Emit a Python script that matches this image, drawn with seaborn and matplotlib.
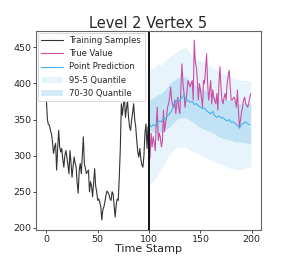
import numpy as np
import pandas as pd
import seaborn as sns
import matplotlib.pyplot as plt

# training window (t = 0..99)
train_t = list(range(0, 100))
train_vals = [378, 350, 343, 342, 335, 330, 318, 303, 312, 317,
              280, 310, 335, 312, 305, 310, 295, 284, 300, 307,
              298, 287, 275, 307, 290, 270, 285, 298, 290, 284,
              262, 248, 280, 289, 275, 300, 326, 289, 282, 275,
              278, 280, 250, 264, 258, 243, 262, 282, 258, 250,
              238, 240, 236, 229, 211, 225, 229, 236, 245, 251,
              249, 246, 240, 238, 250, 247, 230, 215, 232, 240,
              238, 270, 310, 372, 356, 370, 381, 353, 365, 376,
              353, 340, 335, 349, 360, 372, 350, 340, 321, 305,
              298, 310, 295, 287, 284, 300, 331, 344, 310, 340]

# true values over the forecast window (t = 100..199)
true_t = list(range(100, 200))
true_vals = [294, 298, 331, 312, 326, 318, 307, 344, 367, 321,
             331, 325, 312, 321, 363, 333, 345, 353, 367, 372,
             381, 395, 377, 370, 367, 377, 358, 372, 381, 365,
             358, 395, 427, 400, 386, 367, 377, 390, 404, 400,
             395, 400, 404, 377, 460, 430, 423, 404, 377, 400,
             391, 380, 367, 404, 400, 420, 441, 400, 377, 390,
             404, 372, 391, 381, 376, 372, 386, 363, 400, 423,
             395, 377, 372, 380, 386, 377, 400, 410, 418, 395,
             377, 377, 380, 381, 375, 367, 391, 363, 340, 349,
             360, 367, 377, 381, 372, 370, 367, 372, 380, 386]

# point prediction
pred_t = list(range(100, 200, 2))
pred_vals = [342, 340, 343, 341, 346, 348, 347, 352, 351, 355,
             358, 362, 370, 376, 377, 376, 381, 384, 378, 376,
             374, 375, 371, 372, 369, 367, 365, 366, 362, 360,
             358, 361, 355, 353, 355, 352, 353, 350, 348, 350,
             346, 347, 344, 342, 338, 343, 345, 347, 344, 343]

# quantile bands
band_t = [100, 104, 108, 112, 116, 120, 124, 128, 132, 136, 140, 144, 148,
          152, 156, 160, 164, 168, 172, 176, 180, 184, 188, 192, 196, 199]
q95 = [423, 420, 427, 426, 432, 437, 440, 446, 448, 450, 441, 437, 432,
       430, 426, 423, 420, 416, 414, 411, 409, 406, 404, 404, 404, 404]
q70 = [377, 380, 384, 386, 392, 400, 404, 408, 409, 409, 402, 398, 395,
       392, 389, 386, 382, 379, 378, 377, 377, 374, 372, 372, 372, 372]
q30 = [335, 333, 331, 333, 336, 340, 346, 351, 353, 352, 349, 345, 340,
       338, 335, 333, 330, 326, 324, 322, 321, 319, 319, 318, 317, 317]
q05 = [261, 264, 272, 282, 292, 303, 308, 312, 312, 312, 307, 305, 303,
       300, 297, 294, 291, 289, 287, 284, 282, 281, 280, 282, 284, 284]

sns.set_style("ticks")
plt.rcParams['font.family'] = ['DejaVu Sans']

fig = plt.figure(figsize=(2.91, 2.57), dpi=100)
ax = fig.add_axes([0.124, 0.105, 0.773, 0.774])

sns.lineplot(x=train_t, y=train_vals, ax=ax, color='#333333', lw=0.8,
             label='Training Samples')
sns.lineplot(x=true_t, y=true_vals, ax=ax, color='#cc4fa3', lw=0.8,
             label='True Value')
sns.lineplot(x=pred_t, y=pred_vals, ax=ax, color='#45b0ea', lw=0.8,
             label='Point Prediction')
ax.fill_between(band_t, q05, q95, color='#3ba6e0', alpha=0.12, lw=0,
                label='95-5 Quantile')
ax.fill_between(band_t, q30, q70, color='#3ba6e0', alpha=0.22, lw=0,
                label='70-30 Quantile')
ax.axvline(100, color='black', lw=1.3)

ax.set_xlim(-10, 209)
ax.set_ylim(197, 472.5)
ax.set_xticks([0, 50, 100, 150, 200])
ax.set_yticks([200, 250, 300, 350, 400, 450])
ax.tick_params(labelsize=6.8, length=2, width=0.6, pad=1.5)
for s in ax.spines.values():
    s.set_color('#666666')
    s.set_linewidth(0.8)

ax.set_title('Level 2 Vertex 5', fontsize=10.5, pad=2)
ax.set_xlabel('Time Stamp', fontsize=8, labelpad=0)
ax.set_ylabel('')

leg = ax.legend(loc='upper left', fontsize=6.0, framealpha=1,
                borderaxespad=0.2, handlelength=2.6, labelspacing=0.5,
                fancybox=False, edgecolor='#cccccc')
leg.get_frame().set_linewidth(0.5)

fig.savefig('out.png', dpi=100)
